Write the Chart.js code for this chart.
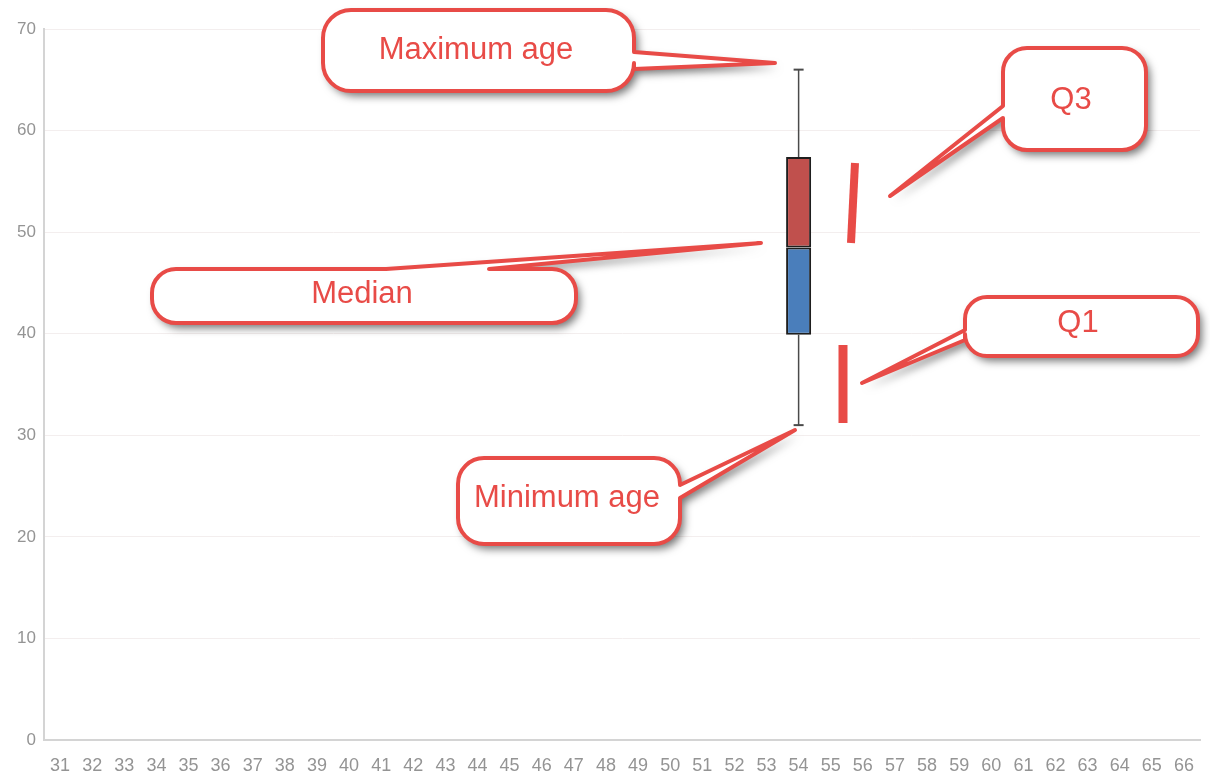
<!DOCTYPE html>
<html><head><meta charset="utf-8">
<script src="https://cdn.jsdelivr.net/npm/chart.js@4.4.1/dist/chart.umd.min.js"></script>
<style>html,body{margin:0;padding:0;background:#fff}#wrap{width:1210px;height:773px}</style>
</head><body><div id="wrap"><canvas id="c" width="1210" height="773"></canvas></div>
<script>
const categories = ['31','32','33','34','35','36','37','38','39','40','41','42','43','44','45','46','47','48','49','50','51','52','53','54','55','56','57','58','59','60','61','62','63','64','65','66'];
const boxCategories = ['54'];
const minAge = [31];
const q1Age = [39.9];
const medianAge = [48.5];
const q3Age = [57.4];
const maxAge = [66];
const yTickValues = [0, 10, 20, 30, 40, 50, 60, 70];

const RED = '#e84b47';

function floating(lo, hi) {
  return categories.map(c => {
    const i = boxCategories.indexOf(c);
    return i < 0 ? null : [lo[i], hi[i]];
  });
}

const whiskerPlugin = {
  id: 'whiskers',
  beforeDatasetsDraw(chart) {
    const ctx = chart.ctx, xs = chart.scales.x, ys = chart.scales.y;
    ctx.save();
    ctx.strokeStyle = '#4a4a4a';
    ctx.lineWidth = 1.5;
    boxCategories.forEach((cat, i) => {
      const cx = xs.getPixelForValue(categories.indexOf(cat));
      const segs = [[maxAge[i], q3Age[i]], [q1Age[i], minAge[i]]];
      segs.forEach(([a, b]) => {
        ctx.beginPath();
        ctx.moveTo(cx, ys.getPixelForValue(a));
        ctx.lineTo(cx, ys.getPixelForValue(b));
        ctx.stroke();
      });
      ctx.lineWidth = 2;
      [maxAge[i], minAge[i]].forEach(v => {
        const py = ys.getPixelForValue(v);
        ctx.beginPath();
        ctx.moveTo(cx - 5, py);
        ctx.lineTo(cx + 5, py);
        ctx.stroke();
      });
      ctx.lineWidth = 1.5;
    });
    ctx.restore();
  }
};

function bubblePath(ctx, r, rad, side, b1, b2, tip) {
  const x = r.x, y = r.y, R = r.x + r.w, B = r.y + r.h;
  ctx.beginPath();
  ctx.moveTo(x + rad, y);
  if (side === 'top') { ctx.lineTo(b1, y); ctx.lineTo(tip[0], tip[1]); ctx.lineTo(b2, y); }
  ctx.lineTo(R - rad, y); ctx.arcTo(R, y, R, y + rad, rad);
  if (side === 'right') { ctx.lineTo(R, b1); ctx.lineTo(tip[0], tip[1]); ctx.lineTo(R, b2); }
  ctx.lineTo(R, B - rad); ctx.arcTo(R, B, R - rad, B, rad);
  ctx.lineTo(x + rad, B); ctx.arcTo(x, B, x, B - rad, rad);
  if (side === 'left') { ctx.lineTo(x, b2); ctx.lineTo(tip[0], tip[1]); ctx.lineTo(x, b1); }
  ctx.lineTo(x, y + rad); ctx.arcTo(x, y, x + rad, y, rad);
  ctx.closePath();
}

const callouts = [
  { text: 'Maximum age', rect: {x: 323, y: 10, w: 311, h: 81}, rad: 28, side: 'right', b1: 52, b2: 69, tip: [775, 63], tx: 476, ty: 50 },
  { text: 'Median', rect: {x: 152, y: 269, w: 424, h: 54}, rad: 24, side: 'top', b1: 386, b2: 489, tip: [761, 243], tx: 362, ty: 294 },
  { text: 'Minimum age', rect: {x: 458, y: 458, w: 222, h: 86}, rad: 26, side: 'right', b1: 485, b2: 498, tip: [795, 430], tx: 567, ty: 498 },
  { text: 'Q3', rect: {x: 1003, y: 48, w: 143, h: 102}, rad: 24, side: 'left', b1: 106, b2: 118, tip: [890, 196], tx: 1071, ty: 100 },
  { text: 'Q1', rect: {x: 965, y: 297, w: 233, h: 59}, rad: 22, side: 'left', b1: 330, b2: 340, tip: [862, 383], tx: 1078, ty: 323 }
];
const markers = [
  { from: [855, 163], to: [851, 243], w: 8 },
  { from: [843, 345], to: [843, 423], w: 9 }
];

const calloutPlugin = {
  id: 'callouts',
  afterDraw(chart) {
    const ctx = chart.ctx;
    ctx.save();
    markers.forEach(m => {
      ctx.strokeStyle = RED;
      ctx.lineWidth = m.w;
      ctx.lineCap = 'butt';
      ctx.beginPath();
      ctx.moveTo(m.from[0], m.from[1]);
      ctx.lineTo(m.to[0], m.to[1]);
      ctx.stroke();
    });
    callouts.forEach(c => {
      bubblePath(ctx, c.rect, c.rad, c.side, c.b1, c.b2, c.tip);
      ctx.save();
      ctx.shadowColor = 'rgba(0,0,0,0.55)';
      ctx.shadowBlur = 8;
      ctx.shadowOffsetX = 4;
      ctx.shadowOffsetY = 5;
      ctx.fillStyle = '#fff';
      ctx.fill();
      ctx.restore();
      ctx.strokeStyle = RED;
      ctx.lineWidth = 4;
      ctx.lineJoin = 'round';
      ctx.stroke();
      ctx.fillStyle = RED;
      ctx.font = '31px "Liberation Sans", Arial, sans-serif';
      ctx.textAlign = 'center';
      ctx.textBaseline = 'middle';
      ctx.fillText(c.text, c.tx, c.ty);
    });
    ctx.restore();
  }
};

new Chart(document.getElementById('c'), {
  type: 'bar',
  data: {
    labels: categories,
    datasets: [
      { label: 'Q1–Median', data: floating(q1Age, medianAge), backgroundColor: '#4a7ebb', borderColor: '#1e1e1e', borderWidth: 2, borderSkipped: false },
      { label: 'Median–Q3', data: floating(medianAge, q3Age), backgroundColor: '#c0504d', borderColor: '#1e1e1e', borderWidth: 2, borderSkipped: false }
    ]
  },
  options: {
    responsive: false,
    devicePixelRatio: 1,
    animation: false,
    grouped: false,
    categoryPercentage: 1,
    barPercentage: 0.78,
    layout: { padding: { left: 0, right: 10, top: 29, bottom: 0 } },
    plugins: { legend: { display: false }, tooltip: { enabled: false } },
    scales: {
      x: {
        grid: { display: false },
        border: { display: true, color: '#d4d4d4', width: 2 },
        ticks: { color: '#949494', font: { family: '"Liberation Sans", Arial, sans-serif', size: 18 }, maxRotation: 0, autoSkip: false, padding: 7 },
        afterFit(s) { s.height = 33; }
      },
      y: {
        min: 0, max: 70,
        afterBuildTicks(s) { s.ticks = yTickValues.map(v => ({ value: v })); },
        grid: { color: '#f3eeee', lineWidth: 1, drawTicks: false },
        border: { display: true, color: '#d4d4d4', width: 2 },
        ticks: { color: '#949494', font: { family: '"Liberation Sans", Arial, sans-serif', size: 17 }, padding: 8 },
        afterFit(s) { s.width = 44; }
      }
    }
  },
  plugins: [whiskerPlugin, calloutPlugin]
});
</script>
</body></html>
